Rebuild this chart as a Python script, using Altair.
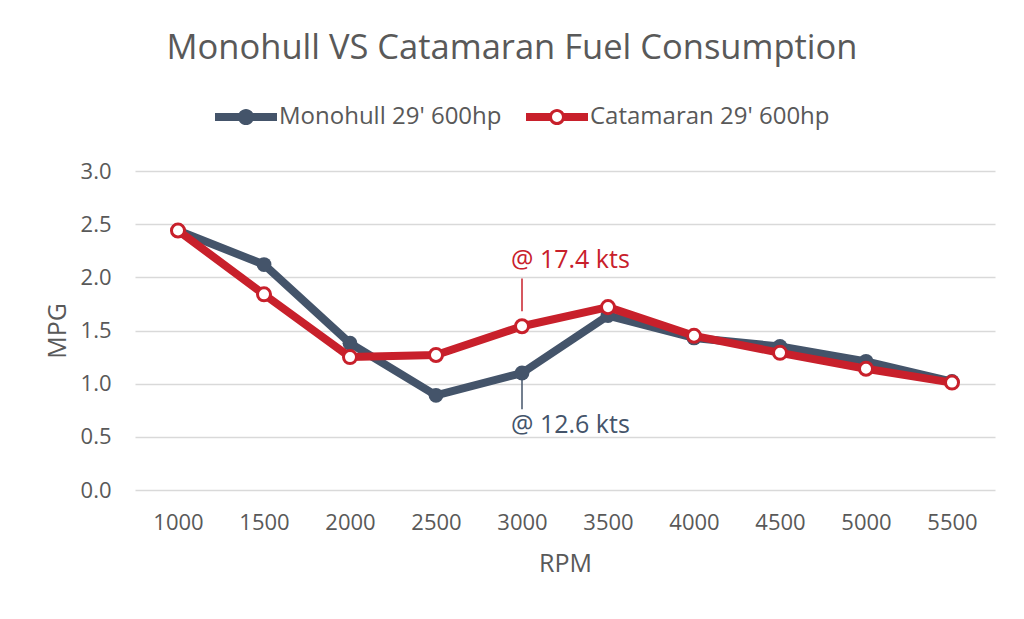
import altair as alt
import pandas as pd

rpm = [1000, 1500, 2000, 2500, 3000, 3500, 4000, 4500, 5000, 5500]
mono = [2.44, 2.12, 1.38, 0.89, 1.10, 1.64, 1.43, 1.35, 1.21, 1.02]
cat = [2.44, 1.84, 1.25, 1.27, 1.54, 1.72, 1.45, 1.29, 1.14, 1.01]
series_names = ["Monohull 29' 600hp", "Catamaran 29' 600hp"]
series_colors = ["#44546A", "#C8202B"]
y_ticks = [0.0, 0.5, 1.0, 1.5, 2.0, 2.5, 3.0]

ann_rpm = [3000, 3000]
ann_text = ["@ 17.4 kts", "@ 12.6 kts"]
ann_text_y = [2.16, 0.61]
ann_line_lo = [1.68, 0.76]
ann_line_hi = [1.99, 1.04]
ann_color = ["#C8202B", "#44546A"]

FONT = "Open Sans"
GREY = "#595959"

df = pd.DataFrame({
    "rpm": rpm * 2,
    "mpg": mono + cat,
    "series": [series_names[0]] * len(rpm) + [series_names[1]] * len(rpm),
})
ann = pd.DataFrame({"rpm": ann_rpm, "text": ann_text, "ty": ann_text_y,
                    "lo": ann_line_lo, "hi": ann_line_hi, "color": ann_color})

x_scale = alt.Scale(type="point", padding=0.5)
x_enc = alt.X("rpm:O", sort=rpm, scale=x_scale,
              axis=alt.Axis(title="RPM", labelAngle=0, labelFontSize=22, labelColor=GREY,
                            titleFontSize=25, titleColor=GREY, titleFontWeight="normal",
                            domain=False, ticks=False, labelPadding=22, titlePadding=18,
                            grid=False))
y_enc = alt.Y("mpg:Q", scale=alt.Scale(domain=[0, 3], nice=False),
              axis=alt.Axis(title="MPG", values=y_ticks, format=".1f", labelFontSize=22,
                            labelColor=GREY, titleFontSize=25, titleColor=GREY,
                            titleFontWeight="normal", domain=False, ticks=False,
                            labelPadding=24, titlePadding=10, gridColor="#D9D9D9",
                            gridWidth=1.5))

base = alt.Chart(df).encode(x=x_enc, y=y_enc)

def line_layer(name, color):
    return base.transform_filter(alt.datum.series == name).mark_line(
        color=color, strokeWidth=8, strokeCap="round", strokeJoin="round")

mono_line = line_layer(series_names[0], series_colors[0])
cat_line = line_layer(series_names[1], series_colors[1])
mono_pts = base.transform_filter(alt.datum.series == series_names[0]).mark_circle(
    size=220, color=series_colors[0], opacity=1)
cat_pts = base.transform_filter(alt.datum.series == series_names[1]).mark_point(
    size=170, filled=False, fill="white", stroke=series_colors[1], strokeWidth=3, opacity=1)

solid_sym = ("M-1,-0.13 L-0.2,-0.13 L-0.2,0.13 L-1,0.13 Z "
             "M0.2,-0.13 L1,-0.13 L1,0.13 L0.2,0.13 Z "
             "M0.26,0 A0.26,0.26 0 1,1 -0.26,0 A0.26,0.26 0 1,1 0.26,0 Z")
ring_sym = ("M-1,-0.13 L-0.2,-0.13 L-0.2,0.13 L-1,0.13 Z "
            "M0.2,-0.13 L1,-0.13 L1,0.13 L0.2,0.13 Z "
            "M0.26,0 A0.26,0.26 0 1,1 -0.26,0 A0.26,0.26 0 1,1 0.26,0 Z "
            "M0.16,0 A0.16,0.16 0 1,0 -0.16,0 A0.16,0.16 0 1,0 0.16,0 Z")

legend = alt.Legend(orient="none", legendX=80, legendY=-85, direction="horizontal",
                    title=None, labelFontSize=24, labelColor=GREY, labelFont=FONT,
                    labelLimit=0, symbolSize=3844, columnPadding=24, labelOffset=2,
                    symbolStrokeWidth=0, symbolOpacity=1)

legend_layer = base.transform_filter("datum.rpm < 0").mark_point(filled=True, size=3844).encode(
    color=alt.Color("series:N", scale=alt.Scale(domain=series_names, range=series_colors),
                    legend=legend),
    shape=alt.Shape("series:N", scale=alt.Scale(domain=series_names, range=[solid_sym, ring_sym]),
                    legend=legend),
)

ann_base = alt.Chart(ann)
ann_rule = ann_base.mark_rule(strokeWidth=1.5).encode(
    x=alt.X("rpm:O", sort=rpm, scale=x_scale), y="lo:Q", y2="hi:Q",
    color=alt.Color("color:N", scale=None))
ann_txt = ann_base.mark_text(align="left", baseline="middle", dx=-11, fontSize=25, font=FONT).encode(
    x=alt.X("rpm:O", sort=rpm, scale=x_scale), y="ty:Q", text="text:N",
    color=alt.Color("color:N", scale=None))

chart = alt.layer(
    mono_line, mono_pts, cat_line, cat_pts, ann_rule, ann_txt, legend_layer
).properties(
    width=860, height=319,
    padding={"left": 127, "top": 163, "right": 21, "bottom": 100},
    autosize=alt.AutoSizeParams(type="none"),
    title=alt.TitleParams("Monohull VS Catamaran Fuel Consumption", fontSize=34.5, color=GREY,
                          font=FONT, fontWeight="normal", anchor="middle", offset=20, dx=-53),
).configure(font=FONT).configure_view(stroke=None).configure_axis(labelFont=FONT, titleFont=FONT)

chart.save("out.html", embed_options={"renderer": "svg", "actions": False})
